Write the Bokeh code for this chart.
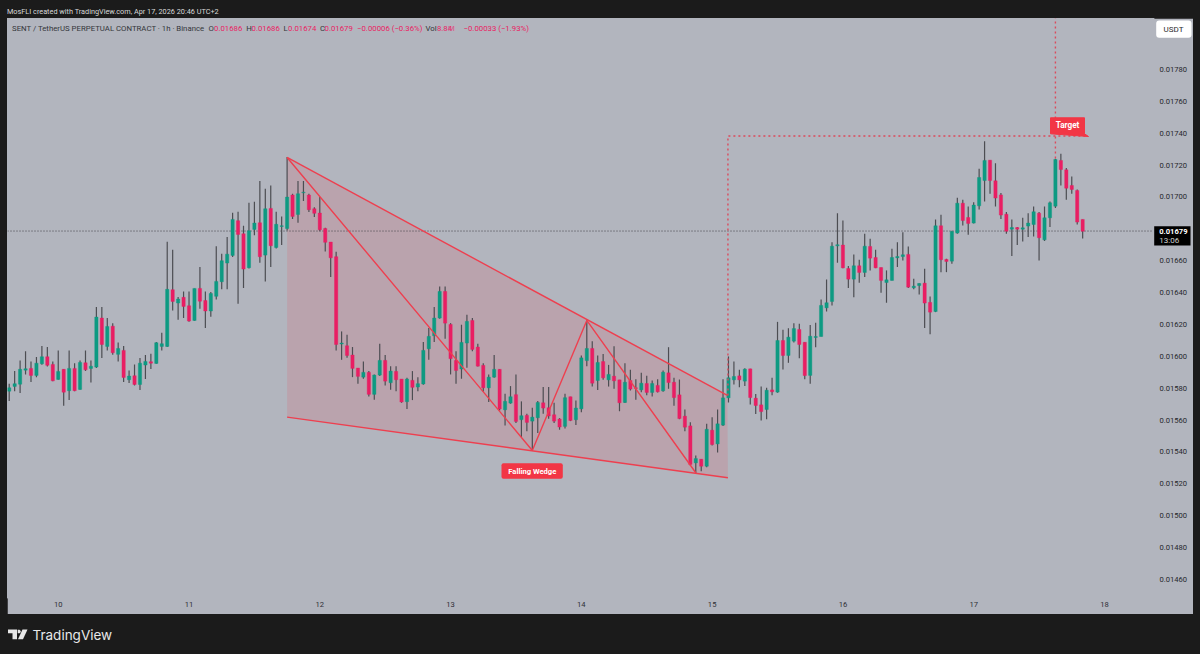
import numpy as np
from bokeh.embed import file_html
from bokeh.resources import INLINE
from bokeh.plotting import figure
from bokeh.models import (Range1d, LinearAxis, FixedTicker, PrintfTickFormatter, Label,
                          BoxAnnotation, ColumnDataSource)

# Hourly SENT/USDT perpetual candles, in units of 0.00001
opens = [
1578.1,1581.1,1582.5,1591.3,1592.4,1588.0,1595.3,1599.7,1594.9,1585.5,
1591.8,1578.4,1592.4,1579.2,1595.9,1592.4,1593.2,1624.0,1606.2,1618.9,
1601.2,1603.7,1585.3,1587.8,1582.3,1594.5,1596.6,1595.5,1606.2,1606.2,
1641.8,1633.4,1637.0,1631.7,1622.5,1642.6,1635.0,1628.4,1637.6,1646.8,
1658.5,1663.3,1685.1,1676.9,1655.6,1679.6,1683.8,1663.5,1692.8,1668.3,
1681.5,1680.2,1701.2,1689.0,1702.6,1701.2,1692.6,1689.9,1680.2,1671.7,
1662.5,1607.7,1606.6,1600.8,1592.6,1586.9,1589.9,1576.1,1588.2,1597.4,
1583.4,1590.5,1585.7,1571.5,1584.9,1580.7,1582.6,1604.7,1612.9,1624.0,
1640.7,1620.0,1597.4,1592.0,1608.3,1622.5,1605.8,1594.3,1580.2,1586.9,
1591.8,1566.4,1570.6,1575.9,1560.2,1562.9,1559.3,1561.4,1570.8,1567.7,
1563.3,1560.6,1556.0,1574.6,1560.2,1567.0,1597.3,1604.9,1584.8,1596.7,
1585.2,1587.5,1585.2,1571.0,1584.8,1580.2,1578.9,1582.9,1577.3,1581.7,
1578.3,1589.6,1583.7,1575.8,1562.4,1556.3,1533.1,1535.4,1531.0,1553.6,
1545.0,1556.8,1573.9,1585.2,1587.7,1584.4,1592.1,1573.7,1569.5,1566.6,
1578.9,1577.5,1609.9,1600.5,1609.5,1616.8,1608.8,1588.0,1611.8,1612.4,
1630.4,1634.4,1669.3,1669.8,1655.1,1648.4,1656.8,1652.6,1668.9,1662.0,
1655.7,1646.3,1647.6,1661.8,1662.6,1663.9,1643.0,1644.4,1645.9,1633.8,
1628.1,1681.9,1660.8,1659.7,1677.3,1696.1,1687.1,1683.6,1694.4,1710.3,
1723.1,1710.1,1701.3,1689.2,1679.8,1680.8,1679.8,1681.7,1682.7,1689.8,
1673.1,1686.9,1694.2,1722.9,1717.0,1707.2,1704.1,1685.9]
highs = [
1582.8,1590.7,1597.4,1603.1,1596.8,1599.5,1606.4,1605.8,1596.8,1603.7,
1591.8,1603.7,1595.7,1597.4,1603.7,1597.4,1630.9,1630.9,1624.0,1620.8,
1608.7,1606.4,1591.1,1594.9,1598.9,1600.8,1601.6,1608.9,1614.8,1671.9,
1666.9,1637.2,1640.7,1640.7,1642.6,1656.0,1640.7,1640.3,1669.0,1664.4,
1674.8,1690.1,1690.7,1681.9,1696.4,1697.0,1710.0,1705.1,1707.2,1690.7,
1687.8,1725.0,1702.0,1710.0,1710.0,1702.0,1693.6,1699.9,1680.7,1671.7,
1665.6,1615.6,1613.5,1605.8,1592.6,1596.8,1590.7,1588.6,1607.9,1600.8,
1593.8,1593.8,1585.7,1586.5,1590.7,1586.9,1608.9,1617.7,1630.9,1643.8,
1643.8,1620.8,1603.1,1619.8,1626.1,1624.0,1607.9,1595.7,1588.6,1600.8,
1591.8,1576.5,1581.3,1588.6,1571.7,1563.9,1567.7,1571.9,1580.7,1580.7,
1570.8,1561.2,1576.5,1574.6,1572.3,1600.5,1622.4,1609.5,1600.5,1601.5,
1594.6,1606.3,1585.2,1595.7,1591.5,1585.6,1589.6,1587.7,1584.8,1585.6,
1591.1,1605.7,1586.5,1585.4,1566.6,1558.6,1537.7,1535.4,1557.6,1561.8,
1566.6,1585.6,1599.9,1596.7,1591.5,1592.5,1592.1,1576.4,1581.0,1580.2,
1586.5,1621.6,1616.6,1617.6,1620.8,1620.4,1608.8,1619.6,1621.0,1635.7,
1648.2,1671.6,1689.8,1685.2,1656.6,1663.9,1660.6,1676.9,1673.7,1666.8,
1655.7,1653.9,1667.5,1671.6,1677.9,1668.9,1648.6,1645.9,1654.9,1637.5,
1685.9,1688.8,1661.2,1678.8,1699.5,1698.2,1694.0,1696.7,1717.7,1735.0,
1723.1,1721.2,1702.4,1690.5,1685.9,1681.1,1686.9,1689.8,1694.0,1690.5,
1694.0,1697.2,1723.9,1727.1,1718.1,1712.9,1704.7,1685.9]
lows = [
1571.9,1578.1,1576.9,1588.6,1583.8,1586.9,1594.7,1593.6,1584.4,1585.3,
1568.9,1572.5,1578.1,1579.0,1590.7,1583.6,1592.6,1598.9,1603.7,1600.9,
1596.8,1583.8,1583.2,1581.7,1578.8,1585.7,1592.0,1595.3,1603.7,1605.8,
1628.8,1622.9,1624.0,1621.7,1622.3,1629.8,1617.7,1624.8,1635.7,1642.0,
1642.0,1662.3,1633.0,1642.8,1655.1,1675.9,1658.7,1647.0,1656.0,1667.7,
1669.8,1679.0,1686.1,1683.8,1697.4,1690.5,1687.4,1678.4,1665.8,1649.7,
1603.7,1597.8,1599.1,1586.9,1582.8,1585.9,1574.8,1572.7,1587.6,1581.7,
1579.0,1578.1,1570.8,1566.9,1572.5,1578.1,1582.1,1597.8,1608.9,1623.6,
1611.0,1588.6,1582.8,1585.9,1592.8,1603.1,1593.6,1577.7,1571.3,1586.5,
1566.0,1556.6,1570.2,1558.1,1549.3,1553.0,1541.3,1551.8,1563.9,1560.8,
1558.1,1553.9,1554.7,1559.3,1556.8,1564.9,1593.8,1581.0,1578.9,1585.2,
1581.0,1579.6,1565.5,1570.6,1578.5,1572.7,1577.5,1575.6,1574.8,1577.3,
1577.7,1579.6,1568.9,1560.5,1553.0,1531.4,1526.8,1527.9,1530.4,1544.0,
1539.6,1556.3,1571.0,1582.3,1580.6,1581.4,1569.7,1563.7,1559.7,1560.5,
1575.6,1577.1,1591.7,1595.9,1608.6,1598.8,1585.6,1582.7,1605.7,1612.4,
1628.1,1631.9,1658.7,1655.3,1642.8,1637.1,1646.1,1649.7,1653.9,1655.3,
1639.8,1633.6,1647.6,1656.0,1660.1,1642.8,1642.1,1638.8,1617.7,1613.9,
1627.7,1652.8,1652.8,1658.0,1676.9,1682.1,1676.2,1683.4,1692.1,1697.2,
1702.0,1694.0,1686.1,1676.9,1662.9,1669.8,1672.1,1674.8,1675.2,1660.1,
1672.3,1681.1,1693.0,1707.2,1698.2,1702.0,1682.7,1673.9]
closes = [
1580.2,1582.8,1591.8,1592.2,1588.0,1595.7,1599.7,1594.3,1584.6,1590.5,
1577.5,1592.4,1578.4,1596.1,1591.5,1593.8,1624.6,1607.4,1618.7,1602.2,
1604.9,1586.7,1587.6,1582.3,1595.7,1596.8,1595.7,1608.5,1607.9,1642.0,
1634.4,1635.9,1631.3,1622.1,1642.6,1634.6,1628.4,1639.4,1647.0,1660.0,
1664.1,1685.9,1676.5,1654.7,1678.8,1683.6,1662.5,1692.6,1669.4,1682.8,
1681.9,1699.9,1687.8,1702.0,1703.0,1692.0,1689.7,1679.4,1671.5,1661.8,
1607.4,1608.3,1600.5,1592.4,1587.4,1589.9,1576.1,1588.2,1597.4,1584.4,
1590.7,1585.3,1571.3,1585.7,1580.5,1582.8,1603.7,1612.5,1624.0,1640.7,
1620.8,1598.5,1591.1,1608.7,1621.9,1604.3,1593.8,1580.2,1586.9,1591.8,
1566.9,1571.7,1574.6,1559.1,1562.7,1558.5,1561.8,1571.0,1567.5,1562.5,
1559.3,1555.6,1574.0,1559.7,1567.5,1599.0,1604.9,1583.1,1596.1,1586.5,
1588.6,1584.6,1570.8,1583.7,1579.4,1579.8,1583.1,1577.3,1582.9,1577.7,
1590.0,1583.5,1574.1,1560.9,1555.5,1532.1,1535.8,1531.0,1554.2,1544.6,
1557.6,1573.9,1586.5,1587.3,1585.2,1591.9,1574.1,1569.1,1565.3,1578.7,
1577.7,1609.9,1600.5,1612.0,1617.4,1607.4,1587.9,1612.6,1612.4,1631.9,
1633.6,1669.1,1670.0,1655.5,1648.4,1656.8,1652.6,1669.1,1661.6,1655.5,
1647.6,1648.0,1662.0,1662.6,1663.7,1643.4,1644.0,1645.7,1633.4,1627.7,
1681.9,1660.6,1659.5,1678.3,1696.1,1685.2,1683.4,1694.9,1712.2,1722.9,
1710.3,1699.3,1688.6,1678.5,1680.8,1679.8,1680.6,1683.6,1690.7,1674.4,
1686.9,1696.3,1723.5,1717.2,1705.5,1704.7,1684.2,1678.5]
price_unit = 1e-5

# Tick labels
day_ticks = [9, 33, 57, 81, 105, 129, 153, 177, 201]
day_labels = ["10", "11", "12", "13", "14", "15", "16", "17", "18"]
price_ticks = [0.0146, 0.0148, 0.0150, 0.0152, 0.0154, 0.0156, 0.0158, 0.0160, 0.0162, 0.0164,
               0.0166, 0.0170, 0.0172, 0.0174, 0.0176, 0.0178]

# Falling wedge drawing (bar index, price in 0.00001)
wedge_x = [51, 131.8, 131.9, 51]
wedge_y = [1724.8, 1575.4, 1523.8, 1561.8]
zigzag_x = [51, 96, 106, 126]
zigzag_y = [1724.8, 1540.9, 1622.5, 1526.9]
target_x = [131.9, 131.9, 197.8]
target_y = [1575.4, 1738.3, 1738.3]
target2_x = [192, 192]
target2_y = [1724.1, 1815.0]
last_price = 1678.6

# Colours
BG = "#b2b5be"; DARK = "#1b1b1b"; UP = "#0d9a82"; DOWN = "#e91e63"; WICK = "#4c4d52"; RED = "#f23645"

# Frame limits of the chart pane
x_lo, x_hi = -0.312, 210.0
y_lo, y_hi = 0.014486, 0.018120

chart = figure(width=1186, height=596, output_backend="svg", toolbar_location=None,
               x_axis_type=None, y_axis_type=None,
               x_range=Range1d(x_lo, x_hi), y_range=Range1d(y_lo, y_hi),
               min_border_left=0, min_border_right=40, min_border_top=0, min_border_bottom=17,
               background_fill_color=BG, border_fill_color=BG, outline_line_color=BG, outline_line_width=2,
               styles={"position": "absolute", "left": "7px", "top": "18px"})
chart.grid.visible = False

o, h, l, c = [np.array(a) * price_unit for a in (opens, highs, lows, closes)]
idx = np.arange(len(o))
up = c >= o
src = ColumnDataSource(dict(x=idx, top=np.maximum(o, c), bottom=np.minimum(o, c), high=h, low=l,
                            color=[UP if u else DOWN for u in up]))

# Wedge fill below the candles
chart.patch(np.array(wedge_x), np.array(wedge_y) * price_unit, fill_color=RED, fill_alpha=0.14, line_color=None)

# Price line
chart.line([x_lo, x_hi], [last_price * price_unit] * 2, line_color="#34353a", line_width=0.9, line_dash=[1, 2])

# Candles
chart.segment("x", "high", "x", "low", source=src, line_color=WICK, line_width=1.2)
chart.vbar("x", 0.6, "top", "bottom", source=src, fill_color="color", line_color="color", line_width=0.4)

# Wedge lines
wedge_line = "#ee3f4f"
chart.line([wedge_x[0], wedge_x[1]], np.array([wedge_y[0], wedge_y[1]]) * price_unit, line_color=wedge_line, line_width=1.4)
chart.line([wedge_x[3], wedge_x[2]], np.array([wedge_y[3], wedge_y[2]]) * price_unit, line_color=wedge_line, line_width=1.4)
chart.line(zigzag_x, np.array(zigzag_y) * price_unit, line_color=wedge_line, line_width=1.4)

# Target lines
chart.line(target_x, np.array(target_y) * price_unit, line_color="#dc4a5c", line_width=1.4, line_dash=[2, 3])
chart.line(target2_x, np.array(target2_y) * price_unit, line_color="#dc4a5c", line_width=1.4, line_dash=[2, 3])

# Axes
xa = LinearAxis(ticker=FixedTicker(ticks=day_ticks),
                major_label_overrides=dict(zip(day_ticks, day_labels)),
                axis_line_color=None, major_tick_line_color=None, minor_tick_line_color=None,
                major_tick_in=0, major_tick_out=0,
                major_label_standoff=4, major_label_text_font="Roboto", major_label_text_font_size="7.6px",
                major_label_text_color="#2f3036")
chart.add_layout(xa, "below")
ya = LinearAxis(ticker=FixedTicker(ticks=price_ticks),
                formatter=PrintfTickFormatter(format="%.5f"),
                axis_line_color=None, major_tick_line_color=None, minor_tick_line_color=None,
                major_tick_in=0, major_tick_out=0,
                major_label_standoff=6, major_label_text_font="Roboto", major_label_text_font_size="7.6px",
                major_label_text_color="#26272c")
chart.add_layout(ya, "right")

# Transparent overlay in page pixels for the page furniture (header, footer, tags)
top = figure(width=1200, height=654, output_backend="svg", toolbar_location=None,
             x_axis_type=None, y_axis_type=None, x_range=Range1d(0, 1200), y_range=Range1d(654, 0),
             min_border=0, outline_line_color=None, background_fill_alpha=0, border_fill_alpha=0,
             styles={"position": "absolute", "left": "0px", "top": "0px"})
top.grid.visible = False

def box(l, r, t, b, color, radius=0):
    top.add_layout(BoxAnnotation(left=l, right=r, top=t, bottom=b, fill_color=color, fill_alpha=1,
                                 line_color=None, border_radius=radius))

top.patch([1050, 1084, 1084, 1088, 1050], [117.3, 117.3, 133.3, 136, 133.3], fill_color=RED, line_color=RED, line_width=1)
box(501, 562.3, 462.7, 478.3, RED, 2)
box(1155.7, 1191, 20, 37.3, "#ffffff", 3)
box(1153.7, 1190, 225.7, 245, "#000000")

def txt(text, px, py, size, color, align="left", style="normal", font="Roboto"):
    top.add_layout(Label(x=px, y=py, text=text, text_font=font, text_font_size=f"{size}px", text_color=color,
                         text_align=align, text_baseline="middle", text_font_style=style))

txt("MosFLI created with TradingView.com, Apr 17, 2026 20:46 UTC+2", 6.5, 10.5, 7.3, "#d8d8d8")
txt("SENT / TetherUS PERPETUAL CONTRACT · 1h · Binance", 11.5, 28, 7.8, "#34353a")
for t, px, col in [("O", 208, "#34353a"), ("0.01686", 213.5, DOWN), ("H", 245.7, "#34353a"), ("0.01686", 251, DOWN),
                   ("L", 283, "#34353a"), ("0.01674", 287.5, DOWN), ("C", 319.6, "#34353a"), ("0.01679", 324, DOWN),
                   ("−0.00006 (−0.36%)", 356.5, DOWN), ("Vol", 425, "#34353a"), ("8.84", 436.4, DOWN), ("M", 447.5, "#d9568a"),
                   ("−0.00033 (−1.93%)", 463, DOWN)]:
    txt(t, px, 28, 7.8, col)
txt("Target", 1067, 124.5, 8.2, "#ffffff", "center", "bold")
txt("Falling Wedge", 531.8, 470.5, 7.6, "#ffffff", "center", "bold")
txt("USDT", 1173, 29, 8, "#2a2a2e", "center")
txt("0.01679", 1158.7, 231, 7.6, "#ffffff", "left", "bold")
txt("13:06", 1158.7, 240, 8, "#d0d0d0", "left")
txt("TradingView", 32, 634.5, 13.5, "#e8e8e8", "left", "normal", "Inter")

# TradingView mark
for xs, ys in (([7.5, 16.5, 16.5, 12, 12, 7.5], [629, 629, 638.8, 638.8, 632.8, 632.8]),
               ([22, 27, 22.5, 17.5], [629, 629, 638.8, 638.8]),
               ([17.2, 19, 20.2, 20.2, 19, 17.2], [629.2, 629.2, 630.5, 631.7, 632.8, 632.8])):
    top.patch(xs, ys, fill_color="#e8e8e8", line_color=None)

html = file_html([chart, top], INLINE)
html = html.replace("<head>", "<head><style>html,body{background:#1b1b1b;overflow:hidden;}</style>", 1)
open("out.html", "w").write(html)
